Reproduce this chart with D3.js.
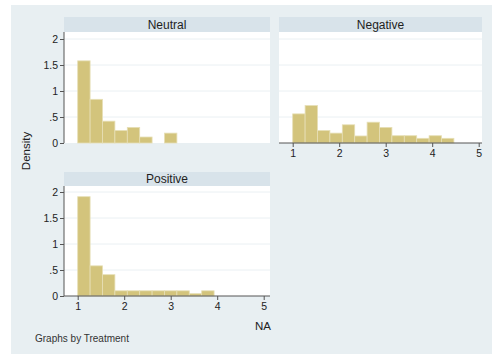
<!DOCTYPE html>
<html>
<head>
<meta charset="utf-8">
<script src="https://cdn.jsdelivr.net/npm/d3@7"></script>
<style>
  body { margin: 0; background: #fff; }
  svg { display: block; font-family: Arial, "Liberation Sans", sans-serif; }
</style>
</head>
<body>
<svg width="492" height="354"></svg>
<script>
// histogram densities, bins of equal width starting at 1
const binStart = 1;
const binWidth = 4 / 15;
const neutralDensity = [1.58, 0.84, 0.42, 0.24, 0.30, 0.115, 0, 0.19];
const negativeDensity = [0.56, 0.72, 0.24, 0.19, 0.35, 0.135, 0.40, 0.30, 0.14, 0.14, 0.09, 0.14, 0.09];
const positiveDensity = [1.91, 0.58, 0.41, 0.10, 0.10, 0.10, 0.10, 0.10, 0.10, 0.045, 0.10];
const yTicks = [0, 0.5, 1, 1.5, 2];
const yTickLabels = ['0', '.5', '1', '1.5', '2'];
const xTicks = [1, 2, 3, 4, 5];

const svg = d3.select('svg');

// graph region background
svg.append('rect')
  .attr('x', 11).attr('y', 5)
  .attr('width', 481).attr('height', 349)
  .attr('fill', '#e8eff2');

const panels = [
  { name: 'Neutral', data: neutralDensity, left: 64, right: 270, top: 32, bottom: 143, head: 15, yAxis: true, xAxis: false },
  { name: 'Negative', data: negativeDensity, left: 279, right: 482, top: 32, bottom: 143, head: 15, yAxis: false, xAxis: true },
  { name: 'Positive', data: positiveDensity, left: 64, right: 270, top: 186, bottom: 296, head: 14, yAxis: true, xAxis: true }
];

const drawPanel = (p) => {
  const g = svg.append('g');

  // x: 1 sits 13.7px in from the left, 46.5px per unit
  const x = d3.scaleLinear()
    .domain([1, 5])
    .range([p.left + 13.7, p.left + 13.7 + 4 * 46.5]);
  const y = d3.scaleLinear()
    .domain([0, 2])
    .range([p.bottom, p.bottom - 104]);

  // title strip
  g.append('rect')
    .attr('x', p.left).attr('y', p.top - p.head)
    .attr('width', p.right - p.left).attr('height', p.head)
    .attr('fill', '#d8e3ea');
  g.append('text')
    .attr('x', (p.left + p.right) / 2)
    .attr('y', p.top - p.head / 2)
    .attr('dy', '0.36em')
    .attr('text-anchor', 'middle')
    .attr('font-size', 12)
    .attr('fill', '#1e1e1e')
    .text(p.name);

  // plot area
  g.append('rect')
    .attr('x', p.left).attr('y', p.top)
    .attr('width', p.right - p.left).attr('height', p.bottom - p.top)
    .attr('fill', '#fff');

  g.selectAll('.grid').data(yTicks.slice(1))
    .enter().append('line')
      .attr('x1', p.left).attr('x2', p.right)
      .attr('y1', d => y(d)).attr('y2', d => y(d))
      .attr('stroke', '#eaf0f3')
      .attr('stroke-width', 1);

  // bars
  g.selectAll('.bar').data(p.data)
    .enter().append('rect')
      .attr('x', (d, i) => x(binStart + i * binWidth))
      .attr('width', x(binStart + binWidth) - x(binStart))
      .attr('y', d => y(d))
      .attr('height', d => y(0) - y(d))
      .attr('fill', '#d3c47c')
      .attr('stroke', '#e6dfb6')
      .attr('stroke-width', d => d > 0 ? 0.8 : 0);

  if (p.yAxis) {
    const yAxisG = g.append('g')
      .attr('transform', `translate(${p.left},0)`)
      .call(d3.axisLeft(y).tickValues(yTicks).tickFormat((d, i) => yTickLabels[i]).tickSize(4).tickPadding(2));
    yAxisG.select('.domain').attr('d', `M0,${p.top}V${p.bottom}`).attr('stroke', '#555');
    yAxisG.selectAll('.tick line').attr('stroke', '#555');
    yAxisG.selectAll('text').attr('font-size', 10.5).attr('fill', '#222').attr('font-family', null);
  }

  if (p.xAxis) {
    const xAxisG = g.append('g')
      .attr('transform', `translate(0,${p.bottom})`)
      .call(d3.axisBottom(x).tickValues(xTicks).tickFormat(d3.format('d')).tickSize(4).tickPadding(3));
    xAxisG.select('.domain').attr('d', `M${p.left},0H${p.right}`).attr('stroke', '#555');
    xAxisG.selectAll('.tick line').attr('stroke', '#555');
    xAxisG.selectAll('text').attr('font-size', 10.5).attr('fill', '#222').attr('font-family', null);
  }
};

panels.forEach(drawPanel);

// axis titles and note
svg.append('text')
  .attr('transform', 'translate(30,151) rotate(-90)')
  .attr('text-anchor', 'middle')
  .attr('font-size', 11.5)
  .attr('fill', '#222')
  .text('Density');

svg.append('text')
  .attr('x', 263).attr('y', 330)
  .attr('text-anchor', 'middle')
  .attr('font-size', 11.5)
  .attr('fill', '#222')
  .text('NA');

svg.append('text')
  .attr('x', 35).attr('y', 342)
  .attr('font-size', 10)
  .attr('fill', '#333')
  .text('Graphs by Treatment');
</script>
</body>
</html>
